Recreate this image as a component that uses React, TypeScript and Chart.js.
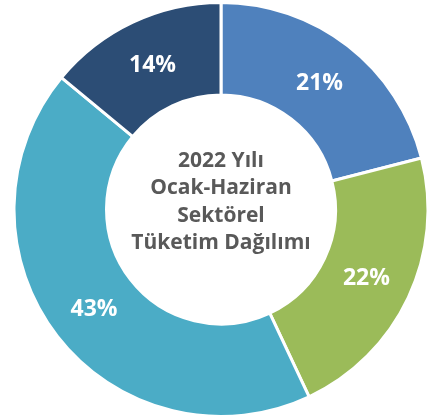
import React, { useEffect, useRef } from "react";
import { Chart, registerables } from "chart.js";

Chart.register(...registerables);

const categories = ["A", "B", "C", "D"];
const values = [21, 22, 43, 14];
const sliceLabels = ["21%", "22%", "43%", "14%"];
const colors = ["#4F81BD", "#9BBB59", "#4BACC6", "#2C4D75"];
const centerLines = ["2022 Yılı", "Ocak-Haziran", "Sektörel", "Tüketim Dağılımı"];

const labelPlugin = {
  id: "sliceLabels",
  afterDatasetsDraw(chart: any) {
    const ctx = chart.ctx;
    const meta = chart.getDatasetMeta(0);
    ctx.save();
    ctx.fillStyle = "#FFFFFF";
    ctx.font = "bold 23px 'Open Sans'";
    ctx.textAlign = "center";
    ctx.textBaseline = "middle";
    meta.data.forEach((arc: any, i: number) => {
      const p = arc.getCenterPoint();
      ctx.fillText(sliceLabels[i], p.x, p.y + 1);
    });
    const cx = meta.data[0].x;
    const cy = meta.data[0].y;
    ctx.fillStyle = "#595959";
    ctx.font = "bold 21px 'Open Sans'";
    const lh = 27.6;
    const startY = cy - 8.5 - (lh * (centerLines.length - 1)) / 2;
    centerLines.forEach((t, i) => {
      ctx.fillText(t, cx, startY + i * lh + 1);
    });
    ctx.restore();
  },
};

export default function App() {
  const ref = useRef<HTMLCanvasElement>(null);
  useEffect(() => {
    if (!ref.current) return;
    const chart = new Chart(ref.current, {
      type: "doughnut",
      data: {
        labels: categories,
        datasets: [
          {
            data: values,
            backgroundColor: colors,
            borderColor: "#FFFFFF",
            borderWidth: 3,
          },
        ],
      },
      options: {
        responsive: false,
        animation: false,
        radius: 207,
        cutout: "55.3%",
        layout: { padding: { left: 0, right: 3, top: 2, bottom: 0 } },
        plugins: {
          legend: { display: false },
          tooltip: { enabled: false },
        },
      } as any,
      plugins: [labelPlugin],
    });
    return () => chart.destroy();
  }, []);
  return (
    <div style={{ position: "fixed", left: 0, top: 0, width: 445, height: 417, background: "#FFFFFF" }}>
      <canvas ref={ref} width={445} height={417} />
    </div>
  );
}
